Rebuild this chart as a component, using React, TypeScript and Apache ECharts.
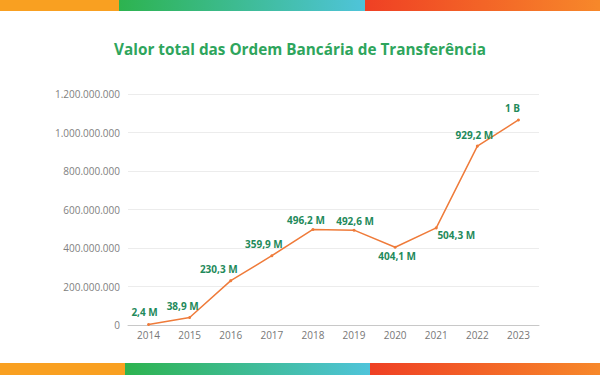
import React, { useEffect, useRef } from "react";
import * as echarts from "echarts";

const years = ["2014", "2015", "2016", "2017", "2018", "2019", "2020", "2021", "2022", "2023"];
const values = [2.4e6, 38.9e6, 230.3e6, 359.9e6, 496.2e6, 492.6e6, 404.1e6, 504.3e6, 929.2e6, 1065e6];
const labelPos = ["top", "top", "top", "top", "top", "top", "bottom", "bottom", "top", "top"];
const labelOffset = [[-4, -1], [-7, 0], [-12, 0], [-8, 0], [-7, 2], [1, 2], [2, -3], [20, -4], [-3, 0], [-6, 0]];

const fmtLabel = (v: number) => {
  if (v >= 1e9) return (Math.round(v / 1e9)).toString() + " B";
  return (v / 1e6).toFixed(1).replace(".", ",") + " M";
};
const fmtAxis = (v: number) => v.toString().replace(/\B(?=(\d{3})+(?!\d))/g, ".");

export default function App() {
  const ref = useRef<HTMLDivElement>(null);
  useEffect(() => {
    if (!ref.current) return;
    const chart = echarts.init(ref.current, null, { renderer: "svg" });
    const grad = (c1: string, c2: string) =>
      new echarts.graphic.LinearGradient(0, 0, 1, 0, [
        { offset: 0, color: c1 },
        { offset: 1, color: c2 },
      ]);
    chart.setOption({
      animation: false,
      backgroundColor: "#ffffff",
      title: {
        text: "Valor total das Ordem Bancária de Transferência",
        left: "center",
        top: 36,
        textStyle: { color: "#2ea55c", fontSize: 15.3, fontWeight: "bold", fontFamily: "Open Sans" },
      },
      graphic: [
        { type: "rect", shape: { x: 0, y: 0, width: 120, height: 11 }, style: { fill: "#f9a021" } },
        { type: "rect", shape: { x: 119, y: 0, width: 246, height: 11 }, style: { fill: grad("#2db34f", "#4fc4da") } },
        { type: "rect", shape: { x: 365, y: 0, width: 235, height: 11 }, style: { fill: grad("#ef4024", "#f7882a") } },
        { type: "rect", shape: { x: 0, y: 363, width: 126, height: 12 }, style: { fill: "#f9a021" } },
        { type: "rect", shape: { x: 125, y: 363, width: 245, height: 12 }, style: { fill: grad("#2db34f", "#4fc4da") } },
        { type: "rect", shape: { x: 370, y: 363, width: 230, height: 12 }, style: { fill: grad("#ef4024", "#f7882a") } },
      ],
      grid: { left: 128, right: 61, top: 94, bottom: 50, containLabel: false },
      xAxis: {
        type: "category",
        data: years,
        boundaryGap: true,
        axisLine: { lineStyle: { color: "#c8c8c8" } },
        axisTick: { show: false },
        axisLabel: { color: "#777777", fontSize: 10, fontFamily: "Open Sans", margin: 5 },
      },
      yAxis: {
        type: "value",
        min: 0,
        max: 1200000000,
        interval: 200000000,
        axisLine: { show: false },
        axisTick: { show: false },
        splitLine: { lineStyle: { color: "#ececec" } },
        axisLabel: { color: "#808080", fontSize: 10, fontFamily: "Open Sans", margin: 8, formatter: fmtAxis },
      },
      series: [
        {
          type: "line",
          data: values.map((v, i) => ({
            value: v,
            label: { position: labelPos[i], offset: labelOffset[i] },
          })),
          symbol: "circle",
          symbolSize: 3,
          lineStyle: { color: "#ef7b3a", width: 1.5 },
          itemStyle: { color: "#ef7b3a" },
          label: {
            show: true,
            color: "#1f8a5b",
            fontSize: 10,
            fontWeight: "bold",
            fontFamily: "Open Sans",
            distance: 5,
            formatter: (p: any) => fmtLabel(p.value),
          },
        },
      ],
    });
    return () => chart.dispose();
  }, []);
  return <div ref={ref} style={{ position: "absolute", left: 0, top: 0, width: 600, height: 375 }} />;
}
